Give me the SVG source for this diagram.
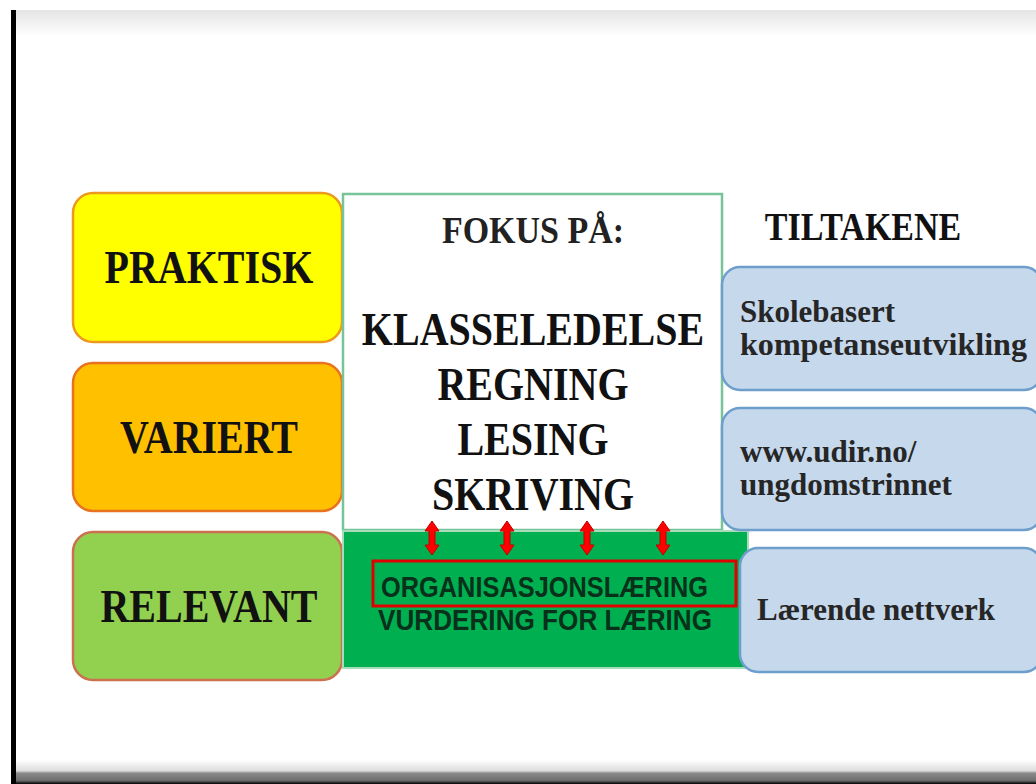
<svg xmlns="http://www.w3.org/2000/svg" width="1036" height="784" viewBox="0 0 1036 784">
<defs>
<linearGradient id="topShade" x1="0" y1="0" x2="0" y2="1">
<stop offset="0" stop-color="#e4e4e4"/><stop offset="1" stop-color="#ffffff"/>
</linearGradient>
<linearGradient id="botShade" x1="0" y1="0" x2="0" y2="1">
<stop offset="0" stop-color="#ffffff"/><stop offset="0.45" stop-color="#dcdcdc"/><stop offset="0.55" stop-color="#8a8a8a"/><stop offset="0.85" stop-color="#6e6e6e"/><stop offset="1" stop-color="#000000"/>
</linearGradient>
</defs>
<style>
.big{font-family:"Liberation Serif","Times New Roman",serif;font-weight:bold;font-size:40px;fill:#111;text-anchor:middle}
.mid{font-family:"Liberation Serif","Times New Roman",serif;font-weight:bold;font-size:34px;fill:#222;text-anchor:middle}
.small{font-family:"Liberation Serif","Times New Roman",serif;font-weight:bold;font-size:31px;fill:#262626}
.sans{font-family:"Liberation Sans",Arial,sans-serif;font-weight:bold;font-size:25px;fill:#08301a}
.blue{fill:#c6d8ec;stroke:#6e9fcc;stroke-width:2.5}
.arrow{fill:#ff0000;stroke:#c00000;stroke-width:1}
</style>
<rect x="0" y="0" width="1036" height="784" fill="#ffffff"/>
<g id="frame">
<rect x="14" y="10" width="1022" height="26" fill="url(#topShade)"/>
<rect x="14" y="760" width="1022" height="24" fill="url(#botShade)"/>
<rect x="11" y="10" width="5" height="774" fill="#000"/>
</g>
<g id="praktisk">
<rect x="73" y="193" width="269" height="149" rx="20" fill="#ffff00" stroke="#eb9a1e" stroke-width="2.5"/>
<text class="big" transform="translate(209,283) scale(1,1.15)">PRAKTISK</text>
</g>
<g id="variert">
<rect x="73" y="363" width="269" height="148" rx="20" fill="#ffc000" stroke="#e8721e" stroke-width="2.5"/>
<text class="big" transform="translate(209,453) scale(1,1.15)">VARIERT</text>
</g>
<g id="relevant">
<rect x="73" y="532" width="269" height="148" rx="20" fill="#92d050" stroke="#cc7050" stroke-width="2.5"/>
<text class="big" transform="translate(209,622) scale(1,1.15)">RELEVANT</text>
</g>
<g id="fokus">
<rect x="343" y="194" width="379" height="336" fill="#ffffff" stroke="#77c39a" stroke-width="2.5"/>
<text class="mid" transform="translate(533,243) scale(1,1.12)">FOKUS PÅ:</text>
<text class="big" transform="translate(533,345) scale(1,1.18)">KLASSELEDELSE</text>
<text class="big" transform="translate(533,400) scale(1,1.18)">REGNING</text>
<text class="big" transform="translate(533,455) scale(1,1.18)">LESING</text>
<text class="big" transform="translate(533,510) scale(1,1.18)">SKRIVING</text>
</g>
<g id="organisasjon">
<rect x="343" y="531" width="405" height="137" fill="#00b050" stroke="#a8dbb9" stroke-width="2"/>
<rect x="373" y="561" width="363" height="45" fill="none" stroke="#e00000" stroke-width="3"/>
<text class="sans" x="0" y="0" textLength="327" lengthAdjust="spacingAndGlyphs" transform="translate(381,597) scale(1,1.2)">ORGANISASJONSLÆRING</text>
<text class="sans" x="0" y="0" textLength="334" lengthAdjust="spacingAndGlyphs" transform="translate(378,630) scale(1,1.2)">VURDERING FOR LÆRING</text>
</g>
<text id="tiltakene" class="mid" transform="translate(863,240) scale(1,1.2)" style="fill:#111">TILTAKENE</text>
<g id="skolebasert">
<rect class="blue" x="722" y="267" width="320" height="123" rx="18"/>
<text class="small" x="740" y="322">Skolebasert</text>
<text class="small" x="740" y="355" textLength="287" lengthAdjust="spacingAndGlyphs">kompetanseutvikling</text>
</g>
<g id="udir">
<rect class="blue" x="722" y="408" width="320" height="122" rx="18"/>
<text class="small" x="740" y="462">www.udir.no/</text>
<text class="small" x="740" y="495">ungdomstrinnet</text>
</g>
<g id="nettverk">
<rect class="blue" x="740" y="548" width="302" height="124" rx="18"/>
<text class="small" x="757" y="620">Lærende nettverk</text>
</g>
<g id="connectors">
<polygon class="arrow" points="432,521 439,531 435,531 435,545 439,545 432,555 425,545 429,545 429,531 425,531"/>
<polygon class="arrow" points="507,521 514,531 510,531 510,545 514,545 507,555 500,545 504,545 504,531 500,531"/>
<polygon class="arrow" points="587,521 594,531 590,531 590,545 594,545 587,555 580,545 584,545 584,531 580,531"/>
<polygon class="arrow" points="663,521 670,531 666,531 666,545 670,545 663,555 656,545 660,545 660,531 656,531"/>
</g>
</svg>
